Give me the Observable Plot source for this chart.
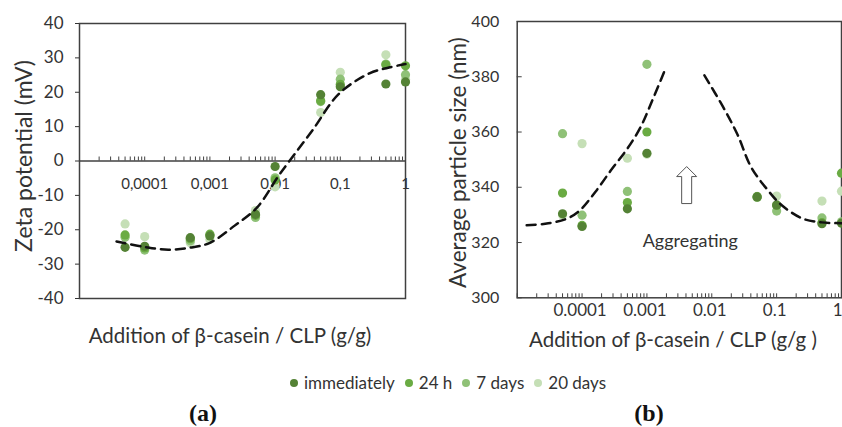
<!DOCTYPE html>
<html><head><meta charset="utf-8">
<script src="https://cdn.jsdelivr.net/npm/d3@7"></script>
<script src="https://cdn.jsdelivr.net/npm/@observablehq/plot@0.6"></script>
<style>
body{margin:0;background:#fff;font-family:Lato,sans-serif;color:#333;}
#wrap{position:relative;width:842px;height:427px;overflow:hidden;}
#pa{position:absolute;left:0;top:0;}
#pb{position:absolute;left:430px;top:0;}
#legend{position:absolute;left:290px;top:372px;display:flex;align-items:center;font-size:17px;white-space:nowrap;}
#legend .item{display:flex;align-items:center;margin-right:10px;}
#legend .dot{width:8px;height:8px;border-radius:50%;margin-right:6px;}
.cap{position:absolute;top:400px;font:bold 24px "Liberation Serif",serif;color:#111;transform:translateX(-50%);}
</style></head>
<body><div id="wrap"><div id="pa"></div><div id="pb"></div><div id="legend"></div>
<div class="cap" style="left:203px">(a)</div><div class="cap" style="left:649px">(b)</div></div>
<script>
// ---- shared series ----
const seriesNames = ["immediately", "24 h", "7 days", "20 days"];
const seriesColors = ["#548235", "#6AAB43", "#8FC177", "#C5DFB6"];
const xLabelA = "Addition of β-casein / CLP (g/g)";
const xLabelB = "Addition of β-casein / CLP (g/g )";
const yLabelA = "Zeta potential (mV)";
const yLabelB = "Average particle size (nm)";

// ---- panel (a): zeta potential ----
const zetaX = [5e-5, 1e-4, 5e-4, 1e-3, 5e-3, 1e-2, 5e-2, 0.1, 0.5, 1];
const zetaImmediately = [-25.1, -24.8, -22.3, -21.8, -15.5, -1.6, 19.3, 21.6, 22.4, 23.0];
const zeta24h = [-21.5, -25.3, -22.6, -21.3, -15.8, -5.5, 17.5, 22.3, 28.0, 27.7];
const zeta7d = [-22.2, -25.9, -23.2, -21.6, -16.4, -4.9, 17.3, 23.8, 28.2, 25.1];
const zeta20d = [-18.3, -22.0, -23.8, -22.8, -14.4, -7.5, 14.1, 25.8, 30.9, 23.8];
const zetaTrendX = [3.7e-5, 1e-4, 2.3e-4, 5e-4, 1e-3, 2.4e-3, 5.3e-3, 0.0113, 0.0166, 0.037, 0.095, 0.28, 0.56, 1];
const zetaTrendY = [-23.4, -25.0, -25.8, -25.2, -23.8, -18.8, -13.5, -4.3, 0, 8.8, 19.5, 25.5, 27.2, 28.2];
const zetaXTicks = [1e-4, 1e-3, 1e-2, 0.1, 1];
const zetaXTickLabels = ["0,0001", "0,001", "0,01", "0,1", "1"];
const zetaYTicks = [-40, -30, -20, -10, 0, 10, 20, 30, 40];
const zetaXDomain = [1e-5, 1];
const zetaYDomain = [-40, 40];

// ---- panel (b): particle size ----
const sizeX = [5e-5, 1e-4, 5e-4, 1e-3, 5e-2, 0.1, 0.5, 1];
const sizeImmediately = [330.4, 325.8, 332.2, 352.3, 336.5, 333.6, 326.8, 327.0];
const size24h = [337.9, 326.2, 334.5, 360.0, 336.6, 333.4, 327.2, 345.1];
const size7d = [359.4, 329.9, 338.5, 384.5, 336.3, 331.4, 328.9, 327.5];
const size20d = [330.0, 355.8, 350.5, 352.0, 336.7, 336.8, 335.0, 338.6];
const sizeTrendLeftX = [1.4e-5, 2.7e-5, 5.5e-5, 9e-5, 1.6e-4, 2.9e-4, 5e-4, 8e-4, 1.2e-3, 1.84e-3];
const sizeTrendLeftY = [326.3, 326.8, 328.4, 331.4, 338.3, 346.7, 354.0, 361.8, 371.2, 381.7];
const sizeTrendRightX = [7.7e-3, 0.015, 0.025, 0.04, 0.07, 0.12, 0.25, 0.5, 1];
const sizeTrendRightY = [380.5, 369.0, 359.0, 347.5, 339.5, 333.5, 328.7, 327.3, 327.0];
const sizeXTicks = [1e-4, 1e-3, 1e-2, 0.1, 1];
const sizeXTickLabels = ["0.0001", "0.001", "0.01", "0.1", "1"];
const sizeYTicks = [300, 320, 340, 360, 380, 400];
const sizeXDomain = [1e-5, 1];
const sizeYDomain = [300, 400];
const annotArrowX = [4.1e-3];
const annotArrowY = [340.8];
const annotText = ["Aggregating"];
const annotTextX = [4.66e-3];
const annotTextY = [320.4];

// ---- helpers ----
function long(xs, seriesArrays) {
  const out = [];
  // draw lightest first so darker series lie on top
  for (let k = seriesArrays.length - 1; k >= 0; k--) {
    xs.forEach((x, i) => {
      const v = seriesArrays[k][i];
      if (v != null) out.push({series: seriesNames[k], x, y: v});
    });
  }
  return out;
}
const pairs = (xs, ys) => xs.map((x, i) => ({x, y: ys[i]}));
const tickPairs = (xs, labels) => xs.map((x, i) => ({x, label: labels[i]}));
const frameStroke = "#404040";
const upArrow = {
  draw(ctx) {
    ctx.moveTo(0, -18.5);
    ctx.lineTo(10, -8.5);
    ctx.lineTo(5, -8.5);
    ctx.lineTo(5, 18.5);
    ctx.lineTo(-5, 18.5);
    ctx.lineTo(-5, -8.5);
    ctx.lineTo(-10, -8.5);
    ctx.closePath();
  }
};

// ---- plot (a) ----
const zetaMinor = d3.scaleLog().domain(zetaXDomain).ticks();
const plotA = Plot.plot({
  width: 420, height: 360,
  marginLeft: 79, marginRight: 15, marginTop: 23, marginBottom: 62,
  style: {fontFamily: "Lato, sans-serif", color: "#333", background: "transparent", overflow: "visible"},
  x: {type: "log", domain: zetaXDomain, axis: null},
  y: {domain: zetaYDomain, axis: null},
  color: {domain: seriesNames, range: seriesColors},
  marks: [
    Plot.frame({stroke: frameStroke, strokeWidth: 1.5}),
    Plot.axisY(zetaYTicks, {label: null, tickSize: 4, tickPadding: 12, fontSize: 17, tickFormat: d => String(d)}),
    Plot.ruleY([0], {stroke: frameStroke, strokeWidth: 1.5}),
    Plot.ruleX(zetaMinor, {x: d => d, y1: 0, y2: 0, insetTop: -4, stroke: frameStroke}),
    Plot.text(tickPairs(zetaXTicks, zetaXTickLabels), {x: "x", y: 0, text: "label", dy: 23, fontSize: 15}),
    Plot.dot(long(zetaX, [zetaImmediately, zeta24h, zeta7d, zeta20d]), {x: "x", y: "y", fill: "series", r: 4.6}),
    Plot.line(pairs(zetaTrendX, zetaTrendY), {x: "x", y: "y", curve: "catmull-rom", stroke: "#111", strokeWidth: 2.5, strokeDasharray: "9,6"}),
    Plot.text([yLabelA], {frameAnchor: "left", textAnchor: "middle", text: d => d, rotate: -90, dx: -54.7, dy: -5, fontSize: 23}),
    Plot.text([xLabelA], {frameAnchor: "bottom", text: d => d, dx: -12.5, dy: 44, fontSize: 20.5})
  ]
});
document.getElementById("pa").append(plotA);

// ---- plot (b) ----
const sizeMinor = d3.scaleLog().domain(sizeXDomain).ticks();
const sizeTicksAll = tickPairs(sizeXTicks, sizeXTickLabels);
const plotB = Plot.plot({
  width: 412, height: 360,
  marginLeft: 86.7, marginRight: 1, marginTop: 21, marginBottom: 62.7,
  style: {fontFamily: "Lato, sans-serif", color: "#333", background: "transparent", overflow: "visible"},
  x: {type: "log", domain: sizeXDomain, axis: null},
  y: {domain: sizeYDomain, axis: null},
  color: {domain: seriesNames, range: seriesColors},
  marks: [
    Plot.frame({stroke: frameStroke, strokeWidth: 1.5}),
    Plot.axisY(sizeYTicks, {label: null, tickSize: 0, tickPadding: 18, fontSize: 16, tickFormat: d => String(d)}),
    Plot.ruleY(sizeYTicks, {y: d => d, x1: sizeXDomain[0], x2: sizeXDomain[0], insetRight: -5, stroke: frameStroke}),
    Plot.text(sizeTicksAll.slice(0, -1), {x: "x", text: "label", frameAnchor: "bottom", dy: 17.7, dx: -2, fontSize: 17}),
    Plot.text(sizeTicksAll.slice(-1), {x: "x", text: "label", frameAnchor: "bottom", textAnchor: "end", dy: 17.7, dx: 1, fontSize: 17}),
    Plot.ruleX(sizeMinor, {x: d => d, y1: sizeYDomain[0], y2: sizeYDomain[0], insetTop: -4, stroke: frameStroke}),
    Plot.dot(long(sizeX, [sizeImmediately, size24h, size7d, size20d]), {x: "x", y: "y", fill: "series", r: 4.6}),
    Plot.line(pairs(sizeTrendLeftX, sizeTrendLeftY), {x: "x", y: "y", curve: "catmull-rom", stroke: "#111", strokeWidth: 2.5, strokeDasharray: "9,6"}),
    Plot.line(pairs(sizeTrendRightX, sizeTrendRightY), {x: "x", y: "y", curve: "catmull-rom", stroke: "#111", strokeWidth: 2.5, strokeDasharray: "9,6"}),
    Plot.dot(pairs(annotArrowX, annotArrowY), {x: "x", y: "y", symbol: upArrow, fill: "white", stroke: "#555", strokeWidth: 1}),
    Plot.text(annotText, {x: (d, i) => annotTextX[i], y: (d, i) => annotTextY[i], text: d => d, fontSize: 18}),
    Plot.text([yLabelB], {frameAnchor: "left", textAnchor: "middle", text: d => d, rotate: -90, dx: -58.7, dy: 3, fontSize: 22.5}),
    Plot.text([xLabelB], {frameAnchor: "bottom", text: d => d, dx: -6.4, dy: 48.7, fontSize: 20.5})
  ]
});
document.getElementById("pb").append(plotB);

// ---- legend ----
const legend = document.getElementById("legend");
seriesNames.forEach((name, k) => {
  const item = document.createElement("div");
  item.className = "item";
  const dot = document.createElement("span");
  dot.className = "dot";
  dot.style.background = seriesColors[k];
  const label = document.createElement("span");
  label.textContent = name;
  item.append(dot, label);
  legend.append(item);
});
</script>
</body></html>
